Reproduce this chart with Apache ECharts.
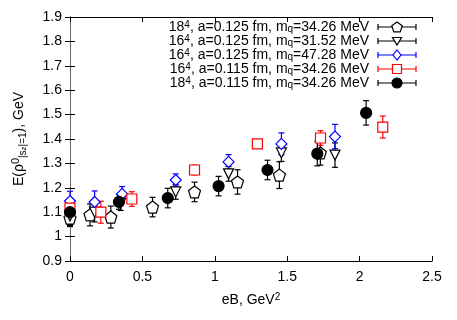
<!DOCTYPE html>
<html>
<head>
<meta charset="utf-8">
<script src="https://cdn.jsdelivr.net/npm/echarts@6/dist/echarts.min.js"></script>
<style>
html,body{margin:0;padding:0;background:#fff;}
#main{width:457px;height:320px;}
</style>
</head>
<body>
<div id="main"></div>
<script>
// 18^4, a=0.125 fm, mq=34.26 MeV (open pentagon)
var pentX = [0, 0.138, 0.282, 0.57, 0.86, 1.157, 1.446, 1.729];
var pentY = [1.076, 1.089, 1.08, 1.121, 1.183, 1.224, 1.252, 1.343];
var pentE = [0.035, 0.045, 0.045, 0.04, 0.04, 0.05, 0.055, 0.05];
// 16^4, a=0.125 fm, mq=31.52 MeV (open triangle down)
var triX = [0, 0.17, 0.35, 0.73, 1.095, 1.46, 1.83];
var triY = [1.085, 1.1, 1.137, 1.183, 1.257, 1.343, 1.334];
var triE = [0.04, 0.04, 0.03, 0.03, 0.03, 0.035, 0.05];
// 16^4, a=0.125 fm, mq=47.28 MeV (blue diamond)
var diaX = [0, 0.17, 0.36, 0.73, 1.095, 1.46, 1.83];
var diaY = [1.146, 1.142, 1.175, 1.232, 1.306, 1.38, 1.41];
var diaE = [0.04, 0.045, 0.03, 0.025, 0.03, 0.045, 0.05];
// 16^4, a=0.115 fm, mq=34.26 MeV (red square)
var sqX = [0, 0.213, 0.427, 0.86, 1.294, 1.73, 2.16];
var sqY = [1.117, 1.1, 1.154, 1.273, 1.38, 1.404, 1.449];
var sqE = [0.03, 0.045, 0.03, 0.02, 0.015, 0.03, 0.045];
// 18^4, a=0.115 fm, mq=34.26 MeV (filled circle)
var circX = [0, 0.338, 0.675, 1.026, 1.364, 1.708, 2.045];
var circY = [1.10, 1.142, 1.158, 1.207, 1.273, 1.34, 1.507];
var circE = [0.05, 0.03, 0.04, 0.04, 0.04, 0.05, 0.05];

var xTicks = [0, 0.5, 1, 1.5, 2, 2.5];
var yTicks = [0.9, 1, 1.1, 1.2, 1.3, 1.4, 1.5, 1.6, 1.7, 1.8, 1.9];

var legendNames = [
    ['18', '4', '0.125', '34.26'],
    ['16', '4', '0.125', '31.52'],
    ['16', '4', '0.125', '47.28'],
    ['16', '4', '0.115', '34.26'],
    ['18', '4', '0.115', '34.26']
];

var FONT = 'Liberation Sans, Arial, sans-serif';
var pentPath = 'path://M0,-1 L0.951,-0.309 L0.588,0.809 L-0.588,0.809 L-0.951,-0.309 Z';

function toData(xs, ys, es) {
    var out = [];
    for (var i = 0; i < xs.length; i++) {
        out.push([xs[i], ys[i], es[i]]);
    }
    return out;
}

function errRender(params, api) {
    var x = api.value(0), y = api.value(1), e = api.value(2);
    var top = api.coord([x, y + e]);
    var bot = api.coord([x, y - e]);
    var st = {stroke: api.visual('color'), lineWidth: 1.2};
    return {
        type: 'group',
        children: [
            {type: 'line', shape: {x1: top[0], y1: top[1], x2: bot[0], y2: bot[1]}, style: st},
            {type: 'line', shape: {x1: top[0] - 3, y1: top[1], x2: top[0] + 3, y2: top[1]}, style: st},
            {type: 'line', shape: {x1: bot[0] - 3, y1: bot[1], x2: bot[0] + 3, y2: bot[1]}, style: st}
        ]
    };
}

var sets = [
    {x: pentX, y: pentY, e: pentE, color: '#000', symbol: pentPath, size: 12, fill: '#fff', rot: 0},
    {x: triX, y: triY, e: triE, color: '#000', symbol: 'triangle', size: 10, fill: '#fff', rot: 180},
    {x: diaX, y: diaY, e: diaE, color: '#0000ff', symbol: 'diamond', size: 11, fill: '#fff', rot: 0},
    {x: sqX, y: sqY, e: sqE, color: '#ff0000', symbol: 'rect', size: 10, fill: '#fff', rot: 0},
    {x: circX, y: circY, e: circE, color: '#000', symbol: 'circle', size: 11, fill: '#000', rot: 0}
];

var series = [];
sets.forEach(function (s) {
    var d = toData(s.x, s.y, s.e);
    series.push({
        type: 'custom',
        renderItem: errRender,
        itemStyle: {color: s.color},
        encode: {x: 0, y: 1},
        data: d,
        z: 2,
        silent: true
    });
    series.push({
        type: 'scatter',
        data: d,
        symbol: s.symbol,
        symbolSize: s.size,
        symbolRotate: s.rot,
        itemStyle: {color: s.fill, borderColor: s.color, borderWidth: 1.2, opacity: 1},
        z: 3,
        silent: true
    });
});

// legend drawn gnuplot-style: text right-aligned, sample on the right
var graphics = [];
var rowY = [27, 41, 55, 69, 83];
var richStyle = {
    n: {fontSize: 14, fontFamily: FONT, color: '#000', lineHeight: 14},
    sup: {fontSize: 10, fontFamily: FONT, color: '#000', verticalAlign: 'top', lineHeight: 14, padding: [0, 0, 8, 0]},
    sub: {fontSize: 10, fontFamily: FONT, color: '#000', verticalAlign: 'bottom', lineHeight: 14, padding: [6, 0, 0, 0]}
};
legendNames.forEach(function (n, i) {
    var y = rowY[i];
    var s = sets[i];
    graphics.push({
        type: 'text',
        x: 369, y: y,
        style: {
            text: '{n|' + n[0] + '}{sup|' + n[1] + '}{n|, a=' + n[2] + ' fm, m}{sub|q}{n|=' + n[3] + ' MeV}',
            rich: richStyle,
            align: 'right',
            verticalAlign: 'middle'
        }
    });
    var st = {stroke: s.color, lineWidth: 1.2};
    graphics.push({type: 'line', shape: {x1: 378, y1: y, x2: 416, y2: y}, style: st});
    graphics.push({type: 'line', shape: {x1: 378, y1: y - 3, x2: 378, y2: y + 3}, style: st});
    graphics.push({type: 'line', shape: {x1: 416, y1: y - 3, x2: 416, y2: y + 3}, style: st});
    var cx = 397, mk;
    var ms = {fill: s.fill, stroke: s.color, lineWidth: 1.2};
    if (i === 0) {
        var pts = [];
        for (var k = 0; k < 5; k++) {
            var a = -Math.PI / 2 + k * 2 * Math.PI / 5;
            pts.push([cx + 5.5 * Math.cos(a), y + 5.5 * Math.sin(a) + 0.5]);
        }
        mk = {type: 'polygon', shape: {points: pts}, style: ms};
    } else if (i === 1) {
        mk = {type: 'polygon', shape: {points: [[cx - 4.5, y - 3.5], [cx + 4.5, y - 3.5], [cx, y + 4]]}, style: ms};
    } else if (i === 2) {
        mk = {type: 'polygon', shape: {points: [[cx, y - 5], [cx + 4, y], [cx, y + 5], [cx - 4, y]]}, style: ms};
    } else if (i === 3) {
        mk = {type: 'rect', shape: {x: cx - 4.5, y: y - 4.5, width: 9, height: 9}, style: ms};
    } else {
        mk = {type: 'circle', shape: {cx: cx, cy: y, r: 5}, style: ms};
    }
    mk.z = 10;
    graphics.push(mk);
});

var axisLine = {show: true, lineStyle: {color: '#000', width: 1}};
var tickStyle = {show: true, inside: true, length: 5, lineStyle: {color: '#000'}};

var option = {
    animation: false,
    backgroundColor: '#fff',
    grid: {left: 69, right: 25, top: 17, bottom: 59, containLabel: false},
    xAxis: [{
        type: 'value', min: 0, max: 2.5, interval: 0.5,
        axisLine: axisLine, axisTick: tickStyle, splitLine: {show: false},
        axisLabel: {color: '#000', fontSize: 14, fontFamily: FONT, margin: 9},
        name: '{n|eB, GeV}{sup|2}',
        nameLocation: 'middle', nameGap: 31,
        nameTextStyle: {
            rich: {
                n: {fontSize: 14, fontFamily: FONT, color: '#000', lineHeight: 16},
                sup: {fontSize: 10, fontFamily: FONT, color: '#000', verticalAlign: 'top', lineHeight: 16, padding: [0, 0, 8, 0]}
            }
        }
    }, {
        type: 'value', min: 0, max: 2.5, interval: 0.5, position: 'top',
        axisLine: axisLine, axisTick: tickStyle, axisLabel: {show: false}, splitLine: {show: false}
    }],
    yAxis: [{
        type: 'value', min: 0.9, max: 1.9, interval: 0.1,
        axisLine: axisLine, axisTick: tickStyle, splitLine: {show: false},
        axisLabel: {
            color: '#000', fontSize: 14, fontFamily: FONT, margin: 8,
            formatter: function (v) { return String(Math.round(v * 10) / 10); }
        },
        name: '{n|E(ρ}{sup|0}{sub||s}{subsub|z}{sub||=1}{n|), GeV}',
        nameLocation: 'middle', nameGap: 42,
        nameTextStyle: {
            rich: {
                n: {fontSize: 14, fontFamily: FONT, color: '#000', lineHeight: 18},
                sup: {fontSize: 11, fontFamily: FONT, color: '#000', verticalAlign: 'top', lineHeight: 18, padding: [0, 0, 10, 0]},
                sub: {fontSize: 10, fontFamily: FONT, color: '#000', verticalAlign: 'bottom', lineHeight: 18, padding: [8, 0, 0, 0]},
                subsub: {fontSize: 8, fontFamily: FONT, color: '#000', verticalAlign: 'bottom', lineHeight: 18, padding: [12, 0, 0, 0]}
            }
        }
    }, {
        type: 'value', min: 0.9, max: 1.9, interval: 0.1, position: 'right',
        axisLine: {show: true, lineStyle: {color: '#666', width: 1}}, axisTick: tickStyle, axisLabel: {show: false}, splitLine: {show: false}
    }],
    graphic: graphics,
    series: series
};

var chart = echarts.init(document.getElementById('main'), null, {renderer: 'canvas'});
chart.setOption(option);
</script>
</body>
</html>
